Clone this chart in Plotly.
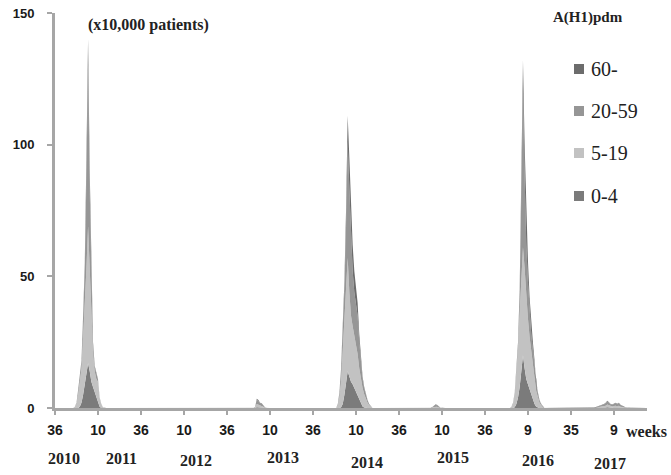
import plotly.graph_objects as go

# ---------------- data (x10,000 patients per week) ----------------
N_WEEKS = 359  # week index 0 = 2010 week 36

TICK_IDX = [0, 26, 52, 78, 104, 130, 156, 182, 208, 234, 260, 286, 312, 338]
TICK_TEXT = ["36", "10", "36", "10", "36", "10", "36", "10", "36", "10", "36", "9", "35", "9"]
YEARS = ["2010", "2011", "2012", "2013", "2014", "2015", "2016", "2017"]
SERIES = ["0-4", "5-19", "20-59", "60-"]

# 2010/11 season (starts at week index 12)
S1_START = 12
S1_0_4 = [0, 0, 0, 0.5, 2, 5, 9, 13, 17, 14, 10, 8, 6, 4, 2, 0.5, 0, 0]
S1_5_19 = [0.4, 1.5, 5, 10, 13, 22, 30, 40, 52, 40, 25, 13, 8, 7, 8, 3, 1.2, 0.3]
S1_20_59 = [0.1, 0.5, 2, 2.5, 3, 7, 13, 34, 61, 28, 11, 2.5, 1.5, 1.7, 0.8, 0.5, 0.3, 0]
S1_60 = [0, 0, 0, 0, 0, 1, 3, 8, 10, 8, 4, 1.5, 0.5, 0.3, 0.2, 0, 0, 0]

# 2012/13 small activity (starts at 121)
S2_START = 121
S2_0_4 = [0, 0.3, 0.3, 0.2, 0.2, 0.1, 0]
S2_5_19 = [0.1, 1.2, 1, 0.7, 0.6, 0.4, 0.1]
S2_20_59 = [0.2, 1.7, 1.4, 0.9, 0.8, 0.4, 0.2]
S2_60 = [0, 0.3, 0.3, 0.2, 0.2, 0.1, 0]

# 2013/14 season (starts at 171)
S3_START = 171
S3_0_4 = [0, 0, 0.3, 1.5, 5, 9, 14, 12, 10, 9, 7.5, 6, 4.5, 3, 1.5, 0.6, 0.2, 0, 0, 0, 0]
S3_5_19 = [1, 4, 10, 20, 28, 35, 43, 32, 25, 22, 20, 18, 16, 12, 9, 7, 5, 3.5, 2, 1, 0.4]
S3_20_59 = [0.5, 1.8, 4.2, 7, 12, 25, 44, 39, 28, 21, 16.5, 15, 14.5, 10, 5.5, 3.4, 2.3, 1.3, 0.9, 0.5, 0.1]
S3_60 = [0, 0.2, 0.5, 1.5, 3, 6, 10, 12, 12, 10, 8, 6, 5, 3, 2, 1, 0.5, 0.2, 0.1, 0, 0]

# 2014/15 small activity (starts at 228)
S4_START = 228
S4_0_4 = [0, 0.1, 0.1, 0.1, 0, 0]
S4_5_19 = [0.1, 0.3, 0.5, 0.4, 0.2, 0.1]
S4_20_59 = [0.2, 0.3, 0.5, 0.5, 0.3, 0.1]
S4_60 = [0, 0.1, 0.2, 0.2, 0.1, 0]

# 2015/16 season (starts at 276)
S5_START = 276
S5_0_4 = [0, 0, 0.3, 1.5, 4, 8, 14, 20, 15, 11, 9, 7, 5, 3, 1.5, 0.5, 0.2, 0, 0, 0]
S5_5_19 = [0.4, 1.5, 5, 11, 18, 28, 38, 41, 38, 30, 25, 20, 16, 13, 10, 6, 4, 2, 1, 0.4]
S5_20_59 = [0.1, 0.5, 0.7, 1.2, 2, 6.5, 27, 59, 35, 21, 14, 9, 7, 6, 4.5, 2.5, 1.3, 0.8, 0.5, 0.1]
S5_60 = [0, 0, 0, 0.3, 1, 2.5, 6, 12, 12, 10, 8, 6, 4, 3, 2, 1, 0.5, 0.2, 0, 0]

# 2016/17 small activity (starts at 326)
S6_START = 326
S6_0_4 = [0, 0, 0.1, 0.1, 0.1, 0.1, 0.2, 0.2, 0.3, 0.2, 0.2, 0.1, 0.2, 0.2, 0.2, 0.2, 0.1, 0.1, 0, 0, 0]
S6_5_19 = [0.1, 0.1, 0.2, 0.3, 0.3, 0.4, 0.5, 0.7, 1, 0.8, 0.5, 0.5, 0.6, 0.7, 0.5, 0.7, 0.4, 0.3, 0.2, 0.1, 0]
S6_20_59 = [0.1, 0.2, 0.2, 0.3, 0.5, 0.6, 0.6, 0.9, 1.2, 1, 0.6, 0.5, 0.8, 0.9, 0.7, 0.9, 0.6, 0.3, 0.2, 0.2, 0.1]
S6_60 = [0, 0.1, 0.1, 0.1, 0.1, 0.2, 0.2, 0.2, 0.3, 0.2, 0.2, 0.2, 0.2, 0.2, 0.2, 0.2, 0.1, 0.1, 0.1, 0, 0]

SEGMENTS = {
    "0-4": [(S1_START, S1_0_4), (S2_START, S2_0_4), (S3_START, S3_0_4), (S4_START, S4_0_4), (S5_START, S5_0_4), (S6_START, S6_0_4)],
    "5-19": [(S1_START, S1_5_19), (S2_START, S2_5_19), (S3_START, S3_5_19), (S4_START, S4_5_19), (S5_START, S5_5_19), (S6_START, S6_5_19)],
    "20-59": [(S1_START, S1_20_59), (S2_START, S2_20_59), (S3_START, S3_20_59), (S4_START, S4_20_59), (S5_START, S5_20_59), (S6_START, S6_20_59)],
    "60-": [(S1_START, S1_60), (S2_START, S2_60), (S3_START, S3_60), (S4_START, S4_60), (S5_START, S5_60), (S6_START, S6_60)],
}

COLORS = {"0-4": "#7b7b7b", "5-19": "#c2c2c2", "20-59": "#969696", "60-": "#6c6c6c"}


def build(name):
    arr = [0.0] * N_WEEKS
    for start, vals in SEGMENTS[name]:
        for i, v in enumerate(vals):
            arr[start + i] = v
    return arr


weeks = list(range(N_WEEKS))
fig = go.Figure()
for name in SERIES:
    fig.add_trace(go.Scatter(
        x=weeks, y=build(name), name=name, mode="lines",
        stackgroup="one", line=dict(width=0, color=COLORS[name]),
        fillcolor=COLORS[name], showlegend=False, hoverinfo="x+y+name",
    ))

# ---------------- layout ----------------
L, R, T, B = 55, 647, 13, 408
W, H = 671, 475


def px(x):
    return (x - L) / (R - L)


def py(y):
    return (B - y) / (B - T)


SERIF = "Liberation Serif"
SANS = "Liberation Sans"

annotations = []
shapes = []
annotations.append(dict(text="<b>(x10,000 patients)</b>", x=px(148), y=py(25), xref="paper", yref="paper",
                        showarrow=False, font=dict(family=SERIF, size=16, color="#222"), xanchor="center", yanchor="middle"))
annotations.append(dict(text="<b>A(H1)pdm</b>", x=px(588), y=py(17), xref="paper", yref="paper",
                        showarrow=False, font=dict(family=SERIF, size=15, color="#222"), xanchor="center", yanchor="middle"))
annotations.append(dict(text="<b>weeks</b>", x=px(646), y=py(431), xref="paper", yref="paper",
                        showarrow=False, font=dict(family=SERIF, size=16, color="#222"), xanchor="center", yanchor="middle"))

YEAR_POS = [(64, 458), (121, 458), (196, 460), (283, 457), (367, 462), (453, 457), (538, 460), (610, 463)]
for yr, (xx, yy) in zip(YEARS, YEAR_POS):
    annotations.append(dict(text="<b>" + yr + "</b>", x=px(xx), y=py(yy), xref="paper", yref="paper",
                            showarrow=False, font=dict(family=SERIF, size=16, color="#222"),
                            xanchor="center", yanchor="middle"))

LEG_Y = {"60-": 69, "20-59": 111, "5-19": 153, "0-4": 196}
for name in ["60-", "20-59", "5-19", "0-4"]:
    yc = LEG_Y[name]
    shapes.append(dict(type="rect", xref="paper", yref="paper", x0=px(574), x1=px(584),
                       y0=py(yc + 5), y1=py(yc - 5), fillcolor=COLORS[name], line=dict(width=0)))
    annotations.append(dict(text=name, x=px(589), y=py(yc), xref="paper", yref="paper",
                            showarrow=False, font=dict(family=SERIF, size=20, color="#222"),
                            xanchor="left", yanchor="middle"))

fig.update_layout(
    width=W, height=H,
    margin=dict(l=L, r=W - R, t=T, b=H - B, autoexpand=False),
    paper_bgcolor="white", plot_bgcolor="white",
    annotations=annotations, shapes=shapes,
    xaxis=dict(range=[0, N_WEEKS - 1], tickmode="array", tickvals=TICK_IDX, ticktext=TICK_TEXT,
               ticks="outside", ticklen=4, tickwidth=2, tickcolor="#a6a6a6", automargin=False,
               showline=True, linecolor="#a6a6a6", linewidth=3, showgrid=False, zeroline=False,
               tickfont=dict(family=SANS, size=14, color="#1a1a1a", weight="bold"), ticklabelstandoff=3),
    yaxis=dict(range=[0, 150], tickmode="array", tickvals=[0, 50, 100, 150], automargin=False,
               ticks="outside", ticklen=5, tickwidth=2, tickcolor="#a6a6a6",
               showline=True, linecolor="#a6a6a6", linewidth=3, showgrid=False, zeroline=False,
               tickfont=dict(family=SANS, size=13, color="#1a1a1a", weight="bold"), ticklabelstandoff=10),
)

fig.write_html("out.html", config={"displayModeBar": False},
               post_script="document.body.style.margin='0';document.body.style.padding='0';")
